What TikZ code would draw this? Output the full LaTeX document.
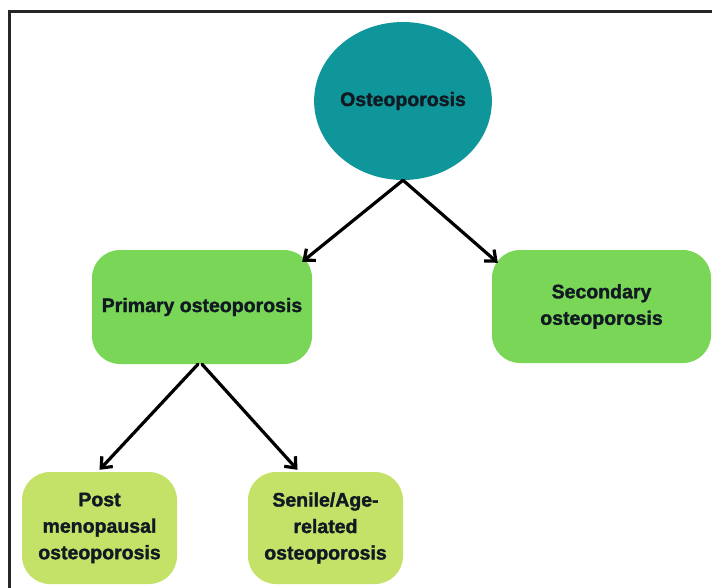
\documentclass[tikz,border=0pt]{standalone}
\usepackage{fontspec}
\setmainfont{Liberation Sans}[BoldFeatures={FakeBold=1.6}]
\usetikzlibrary{shapes.geometric,arrows.meta}
\definecolor{tealfill}{HTML}{0E969B}
\definecolor{greenfill}{HTML}{7AD657}
\definecolor{limefill}{HTML}{C4E268}
\definecolor{txtdark}{HTML}{111A22}
\begin{document}
\begin{tikzpicture}[x=1pt,y=-1pt,
  ell/.style={ellipse, fill=tealfill, minimum width=177pt, minimum height=158pt, inner sep=0pt,
    font=\bfseries\fontsize{19.5}{26}\selectfont, text=txtdark},
  box/.style={rectangle, rounded corners=28pt, inner sep=2pt, align=center,
    font=\bfseries\fontsize{19.5}{26.5}\selectfont, text=txtdark},
  conn/.style={line width=3.2pt, -{Straight Barb[length=9pt,width=15pt,line width=3.2pt]}, line cap=round}
]
\useasboundingbox (0,0) rectangle (712,587);
\draw[line width=3pt, black!85] (9,600) -- (9,11) -- (720,11);
\node[ell] (osteo) at (403,101) {Osteoporosis};
\node[box, fill=greenfill, minimum width=220pt, minimum height=114pt] (prim) at (202,307) {Primary osteoporosis};
\node[box, fill=greenfill, minimum width=219pt, minimum height=113pt] (sec) at (601.5,306.5) {Secondary\\osteoporosis};
\node[box, fill=limefill, minimum width=155pt, minimum height=112pt] (post) at (99.5,528) {Post\\menopausal\\osteoporosis};
\node[box, fill=limefill, minimum width=155pt, minimum height=112pt] (sen) at (325.5,528) {Senile/Age-\\related\\osteoporosis};
\draw[conn] (osteo.south) -- ([xshift=-10pt,yshift=-12pt]prim.north east);
\draw[conn] (osteo.south) -- ([xshift=6pt,yshift=-13pt]sec.north west);
\draw[conn] ([xshift=-4pt]prim.south) -- ([yshift=2pt]post.north);
\draw[conn] (prim.south) -- ([xshift=-28pt,yshift=2pt]sen.north);
\end{tikzpicture}
\end{document}
